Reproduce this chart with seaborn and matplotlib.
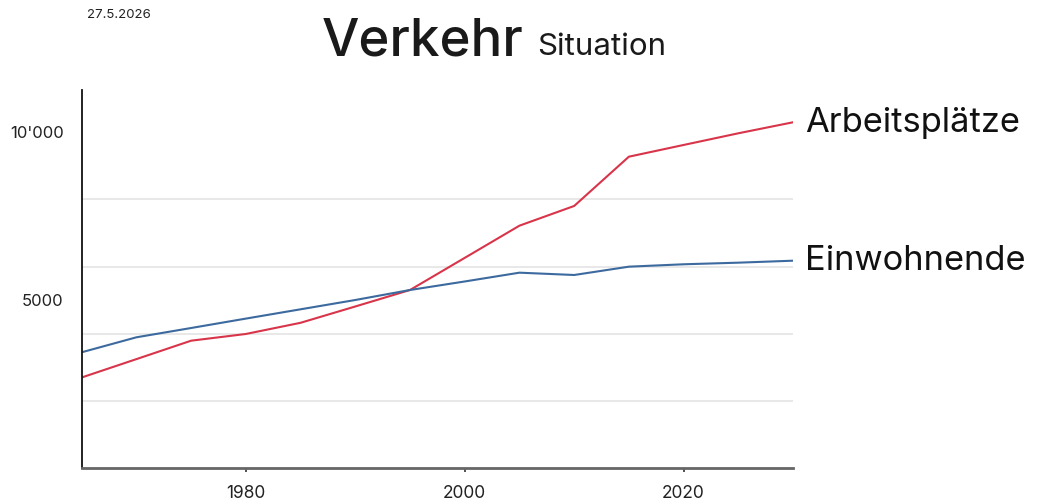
import matplotlib
matplotlib.use("Agg")
import matplotlib.pyplot as plt
import seaborn as sns
import pandas as pd
from matplotlib.ticker import FixedLocator, FixedFormatter

# Data: jobs and residents, five-year steps
years = [1965, 1970, 1975, 1980, 1985, 1990, 1995, 2000, 2005, 2010, 2015, 2020, 2025, 2030]
arbeitsplaetze = [2696, 3243, 3792, 3992, 4325, 4811, 5302, 6259, 7218, 7805, 9273, 9622, 9970, 10298]
einwohnende = [3447, 3893, 4170, 4450, 4727, 5004, 5302, 5556, 5818, 5749, 5997, 6068, 6116, 6175]

series_names = ["Arbeitsplätze", "Einwohnende"]
series_colors = ["#d8344a", "#3d6a9e"]
y_tick_values = [5000, 10000]
y_tick_labels = ["5000", "10'000"]
grid_values = [2000, 4000, 6000, 8000, 10000]
x_tick_values = [1980, 2000, 2020]

df = pd.DataFrame({
    "Jahr": years * 2,
    "Wert": arbeitsplaetze + einwohnende,
    "Reihe": [series_names[0]] * len(years) + [series_names[1]] * len(years),
})

sns.set_theme(style="white")
plt.rcParams["font.family"] = ["Inter", "DejaVu Sans"]

fig = plt.figure(figsize=(10.38, 5.03), dpi=100)
ax = fig.add_axes([0.0787, 0.0696, 0.6853, 0.7515])

sns.lineplot(data=df, x="Jahr", y="Wert", hue="Reihe",
             palette=dict(zip(series_names, series_colors)),
             linewidth=1.5, legend=False, ax=ax)

ax.set_xlim(1965, 2030)
ax.set_ylim(0, 11260)

ax.yaxis.set_major_locator(FixedLocator(y_tick_values))
ax.yaxis.set_major_formatter(FixedFormatter(y_tick_labels))
ax.yaxis.set_minor_locator(FixedLocator(grid_values))
ax.grid(False)
ax.grid(True, which="minor", axis="y", color="#e4e4e4", linewidth=1.2)
ax.set_xticks(x_tick_values)
ax.set_xticklabels([str(y) for y in x_tick_values])

ax.tick_params(axis="y", which="both", length=0, pad=13, labelsize=12, labelcolor="#222222")
ax.tick_params(axis="x", length=3, width=1.2, color="#333333", pad=9,
               labelsize=12.5, labelcolor="#222222", bottom=True)
ax.set_xlabel("")
ax.set_ylabel("")

for side in ["top", "right"]:
    ax.spines[side].set_visible(False)
ax.spines["left"].set_color("#111111")
ax.spines["left"].set_linewidth(1.3)
ax.spines["bottom"].set_color("#666666")
ax.spines["bottom"].set_linewidth(2.0)

# Series labels at the line ends
for name, values, color in zip(series_names, [arbeitsplaetze, einwohnende], series_colors):
    ax.annotate(name, xy=(years[-1], values[-1]), xytext=(12, -9.5),
                textcoords="offset pixels", ha="left", va="baseline",
                fontsize=24.8, color="#111111", annotation_clip=False)

# Header
fig.text(322 / 1038, 1 - 55 / 503, "Verkehr", fontsize=38, fontweight=500,
         color="#1a1a1a", ha="left", va="baseline")
fig.text(537 / 1038, 1 - 55 / 503, "Situation", fontsize=22.5,
         color="#1a1a1a", ha="left", va="baseline")
fig.text(87 / 1038, 1 - 18.3 / 503, "27.5.2026", fontsize=9.5, color="#222222",
         ha="left", va="baseline")

fig.savefig("out.png", dpi=100, facecolor="white")
